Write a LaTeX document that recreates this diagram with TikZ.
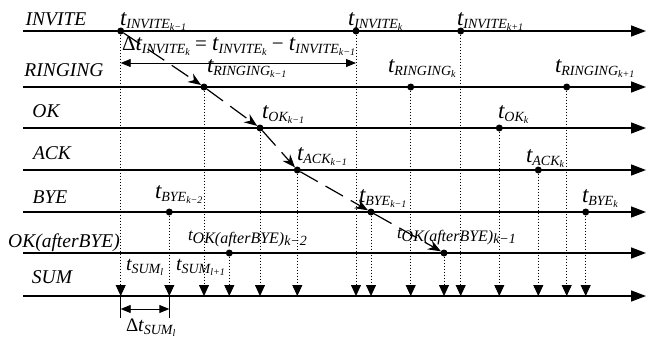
\documentclass[tikz,border=0pt]{standalone}
\usepackage{fontspec}
\setmainfont{Liberation Serif}
\usetikzlibrary{arrows.meta}

% t with a subscript and a sub-subscript: sizes of t, sub, subsub, then the texts
\newcommand\tsub[5]{{\fontsize{#1}{#1}\selectfont\itshape t}\raisebox{-3pt}{\fontsize{#2}{#2}\selectfont\itshape #4\raisebox{-2pt}{\fontsize{#3}{#3}\selectfont #5}}}

\begin{document}
\begin{tikzpicture}[x=1pt, y=-1pt,
    every node/.style={inner sep=0pt, outer sep=0pt},
    lane/.style={line width=1.5pt, -{Triangle[length=15pt,width=11pt]}},
    lanelabel/.style={anchor=base, font=\fontsize{19.5}{21}\selectfont\itshape},
    evdot/.style={circle, fill, minimum size=7pt},
    evlabel/.style={anchor=base west},
    drop/.style={line width=0.8pt, dash pattern=on 1.5pt off 1.5pt, -{Triangle[length=11pt,width=10pt]}},
    chain/.style={line width=1.2pt, dash pattern=on 20pt off 9pt, -{Stealth[length=13pt,width=10pt]}},
    span/.style={line width=0.9pt, {Triangle[length=10pt,width=8pt]}-{Triangle[length=10pt,width=8pt]}}]
    \useasboundingbox (0,0) rectangle (647,341);

    % Lanes with their names
    \foreach \nm/\y/\lx/\ly/\txt in {inv/31/56/25/INVITE, ring/87/64/76/RINGING, ok/128/46/117/OK,
        ack/170/52/159/ACK, bye/212/50/203/BYE, oka/253/64/247/OK(afterBYE), sum/296/52/283/SUM} {
        \coordinate (\nm-s) at (23,\y);
        \coordinate (\nm-e) at (646,\y);
        \draw[lane] (\nm-s) -- (\nm-e);
        \node[lanelabel] (\nm-name) at (\lx,\ly) {\txt};
    }

    % Events, each dropped onto the SUM lane
    \foreach \nm/\x/\ln in {inv-m1/120.7/inv, inv-0/356/inv, inv-p1/460.7/inv,
        ring-m1/204/ring, ring-0/410.7/ring, ring-p1/566.7/ring,
        ok-m1/260/ok, ok-0/499.3/ok, ack-m1/297.3/ack, ack-0/538.3/ack,
        bye-m2/169.3/bye, bye-m1/371/bye, bye-0/585.7/bye,
        oka-m2/229.3/oka, oka-m1/444/oka} {
        \node[evdot] (\nm) at (\x,0 |- \ln-s) {};
        \draw[drop] (\nm) -- (\nm |- sum-s);
    }

    % Call k-1 through the lanes
    \foreach \a/\b in {inv-m1/ring-m1, ring-m1/ok-m1, ok-m1/ack-m1, ack-m1/bye-m1, bye-m1/oka-m1}
        \draw[chain] (\a) -- (\b);

    % Event labels
    \node[evlabel] (inv-m1-t) at (120,25) {\tsub{23}{14}{10}{INVITE}{k−1}};
    \node[evlabel] (inv-0-t) at (348,25) {\tsub{23}{14}{10}{INVITE}{k}};
    \node[evlabel] (inv-p1-t) at (457,25) {\tsub{23}{14}{10}{INVITE}{k+1}};
    \node[evlabel] (ring-m1-t) at (207,72) {\tsub{23}{14}{10}{RINGING}{k−1}};
    \node[evlabel] (ring-0-t) at (388,72) {\tsub{23}{14}{10}{RINGING}{k}};
    \node[evlabel] (ring-p1-t) at (555,72) {\tsub{23}{14}{10}{RINGING}{k+1}};
    \node[evlabel] (ok-m1-t) at (262,118) {\tsub{23}{14}{10}{OK}{k−1}};
    \node[evlabel] (ok-0-t) at (498,118) {\tsub{23}{14}{10}{OK}{k}};
    \node[evlabel] (ack-m1-t) at (297,160) {\tsub{23}{14}{10}{ACK}{k−1}};
    \node[evlabel] (ack-0-t) at (526,162) {\tsub{23}{14}{10}{ACK}{k}};
    \node[evlabel] (bye-m2-t) at (155,198) {\tsub{23}{14}{10}{BYE}{k−2}};
    \node[evlabel] (bye-m1-t) at (359,202) {\tsub{23}{14}{10}{BYE}{k−1}};
    \node[evlabel] (bye-0-t) at (582,202) {\tsub{23}{14}{10}{BYE}{k}};
    \node[evlabel] (oka-m2-t) at (188,240) {\tsub{17}{16}{14}{OK(afterBYE)}{k−2}};
    \node[evlabel] (oka-m1-t) at (397,238) {\tsub{17}{16}{14}{OK(afterBYE)}{k−1}};
    \node[evlabel] (sum-a-t) at (126,270) {\tsub{20}{14}{10}{SUM}{l}};
    \node[evlabel] (sum-b-t) at (176,270) {\tsub{20}{14}{10}{SUM}{l+1}};

    % Interval between two INVITEs
    \draw[span] (inv-m1 |- 0,63) -- (inv-0 |- 0,63);
    \node[evlabel] (dinv) at (122,50) {\fontsize{21}{21}\selectfont Δ\tsub{23}{14}{10}{INVITE}{k}
        = \tsub{23}{14}{10}{INVITE}{k} − \tsub{23}{14}{10}{INVITE}{k−1}};

    % Interval on the SUM lane
    \draw[line width=1pt] (inv-m1 |- sum-s) -- (inv-m1 |- 0,318);
    \draw[line width=1pt] (bye-m2 |- sum-s) -- (bye-m2 |- 0,318);
    \draw[span] (inv-m1 |- 0,309) -- (bye-m2 |- 0,309);
    \node[evlabel] (dsum) at (126,331) {\fontsize{19}{19}\selectfont Δ\tsub{20}{14}{10}{SUM}{l}};
\end{tikzpicture}
\end{document}
